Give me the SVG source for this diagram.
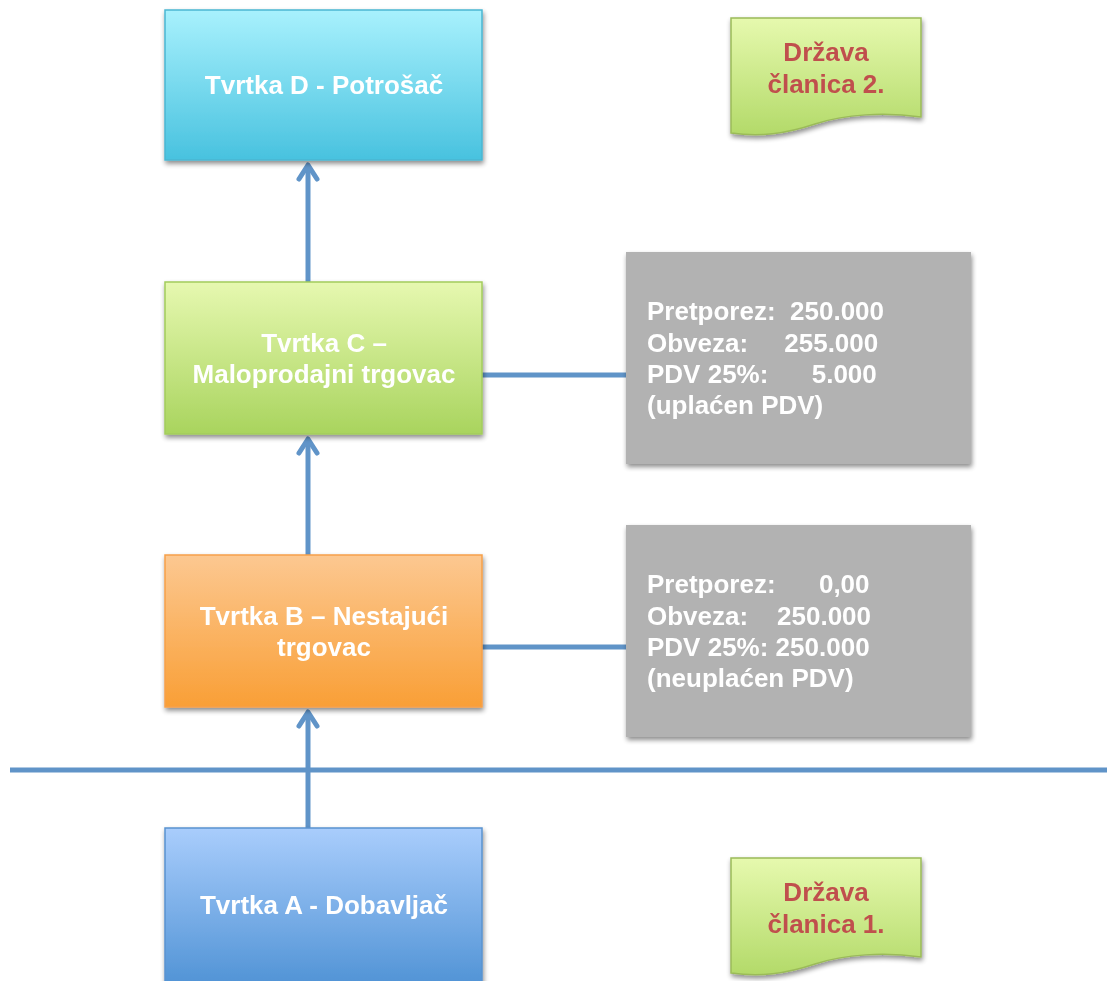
<svg xmlns="http://www.w3.org/2000/svg" width="1107" height="981" viewBox="0 0 1107 981">
<defs>
<linearGradient id="gD" x1="0" y1="0" x2="0" y2="1"><stop offset="0" stop-color="#a8f1fd"/><stop offset="1" stop-color="#48c2df"/></linearGradient>
<linearGradient id="gC" x1="0" y1="0" x2="0" y2="1"><stop offset="0" stop-color="#e6f8b0"/><stop offset="1" stop-color="#a9d45e"/></linearGradient>
<linearGradient id="gB" x1="0" y1="0" x2="0" y2="1"><stop offset="0" stop-color="#fcc891"/><stop offset="1" stop-color="#f99f36"/></linearGradient>
<linearGradient id="gA" x1="0" y1="0" x2="0" y2="1"><stop offset="0" stop-color="#a9cdfc"/><stop offset="1" stop-color="#5294d6"/></linearGradient>
<linearGradient id="gS" x1="0" y1="0" x2="0" y2="1"><stop offset="0" stop-color="#e6f9ae"/><stop offset="1" stop-color="#b3da69"/></linearGradient>
<filter id="sh" x="-10%" y="-10%" width="130%" height="130%"><feGaussianBlur in="SourceAlpha" stdDeviation="2.5"/><feOffset dx="1" dy="3"/><feComponentTransfer><feFuncA type="linear" slope="0.45"/></feComponentTransfer><feMerge><feMergeNode/><feMergeNode in="SourceGraphic"/></feMerge></filter>
<marker id="ah" viewBox="0 0 30 30" refX="22" refY="15" markerWidth="30" markerHeight="30" markerUnits="userSpaceOnUse" orient="auto"><path d="M8,6 L22,15 L8,24" fill="none" stroke="#6094c8" stroke-width="5" stroke-linecap="round" stroke-linejoin="round"/></marker>
</defs>
<style>
.lbl{font-family:"Liberation Sans",Arial,sans-serif;font-weight:bold;font-size:26px;fill:#ffffff;text-anchor:middle}
.info{font-family:"Liberation Sans",Arial,sans-serif;font-weight:bold;font-size:26px;fill:#ffffff}
.st{font-family:"Liberation Sans",Arial,sans-serif;font-weight:bold;font-size:26px;fill:#c0504d;text-anchor:middle}
.ln{stroke:#6094c8;stroke-width:5;fill:none}
</style>
<rect width="1107" height="981" fill="#ffffff"/>
<g id="connectors">
<line class="ln" x1="10" y1="770" x2="1107" y2="770" stroke="#5f93c6"/>
<line class="ln" x1="308" y1="828" x2="308" y2="712" marker-end="url(#ah)"/>
<line class="ln" x1="308" y1="555" x2="308" y2="439" marker-end="url(#ah)"/>
<line class="ln" x1="308" y1="282" x2="308" y2="165" marker-end="url(#ah)"/>
<line class="ln" x1="482" y1="375" x2="627" y2="375"/>
<line class="ln" x1="482" y1="647" x2="627" y2="647"/>
</g>
<g id="nodeD" filter="url(#sh)">
<rect x="165" y="10" width="317" height="150" fill="url(#gD)" stroke="#4bb6d2" stroke-width="1.5"/>
<text class="lbl" x="324" y="94">Tvrtka D - Potrošač</text>
</g>
<g id="nodeC" filter="url(#sh)">
<rect x="165" y="282" width="317" height="152" fill="url(#gC)" stroke="#a3cc5c" stroke-width="1.5"/>
<text class="lbl" x="324" y="352">Tvrtka C –</text>
<text class="lbl" x="324" y="383">Maloprodajni trgovac</text>
</g>
<g id="nodeB" filter="url(#sh)">
<rect x="165" y="555" width="317" height="152" fill="url(#gB)" stroke="#f6a04a" stroke-width="1.5"/>
<text class="lbl" x="324" y="625">Tvrtka B – Nestajući</text>
<text class="lbl" x="324" y="656">trgovac</text>
</g>
<g id="nodeA" filter="url(#sh)">
<rect x="165" y="828" width="317" height="155" fill="url(#gA)" stroke="#5a93cf" stroke-width="1.5"/>
<text class="lbl" x="324" y="914">Tvrtka A - Dobavljač</text>
</g>
<g id="infoC" filter="url(#sh)">
<rect x="626" y="252" width="345" height="212" fill="#b2b2b2"/>
<text class="info" x="647" y="320" xml:space="preserve">Pretporez:  250.000</text>
<text class="info" x="647" y="352" xml:space="preserve">Obveza:     255.000</text>
<text class="info" x="647" y="383" xml:space="preserve">PDV 25%:      5.000</text>
<text class="info" x="647" y="414">(uplaćen PDV)</text>
</g>
<g id="infoB" filter="url(#sh)">
<rect x="626" y="525" width="345" height="212" fill="#b2b2b2"/>
<text class="info" x="647" y="593" xml:space="preserve">Pretporez:      0,00</text>
<text class="info" x="647" y="625" xml:space="preserve">Obveza:    250.000</text>
<text class="info" x="647" y="656" xml:space="preserve">PDV 25%: 250.000</text>
<text class="info" x="647" y="687">(neuplaćen PDV)</text>
</g>
<g id="state2" filter="url(#sh)">
<path d="M731,18 H921 V117 C885,112 845,114 815,124 C785,134 760,137 731,133 Z" fill="url(#gS)" stroke="#9bbb59" stroke-width="1.5"/>
<text class="st" x="826" y="61">Država</text>
<text class="st" x="826" y="93">članica 2.</text>
</g>
<g id="state1" filter="url(#sh)">
<path d="M731,858 H921 V957 C885,952 845,954 815,964 C785,974 760,977 731,973 Z" fill="url(#gS)" stroke="#9bbb59" stroke-width="1.5"/>
<text class="st" x="826" y="901">Država</text>
<text class="st" x="826" y="933">članica 1.</text>
</g>
</svg>
